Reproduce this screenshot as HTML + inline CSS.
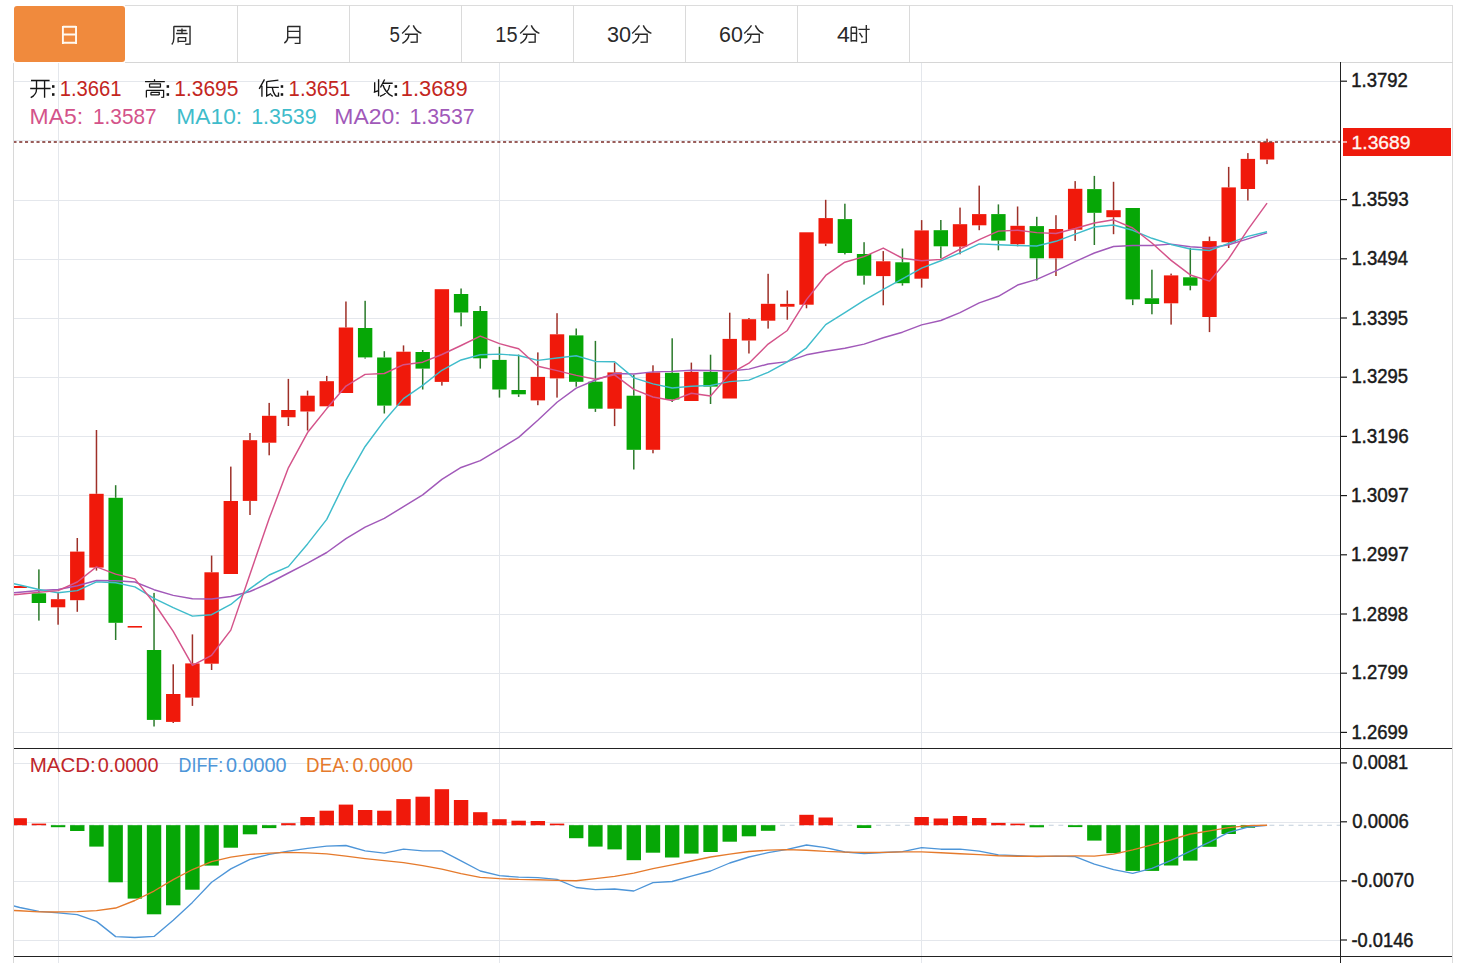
<!DOCTYPE html><html><head><meta charset="utf-8"><title>K</title><style>html,body{margin:0;padding:0;background:#fff;overflow:hidden}svg{display:block}</style></head><body>
<svg width="1463" height="963" viewBox="0 0 1463 963" font-family="Liberation Sans, sans-serif">
<rect width="1463" height="963" fill="#fff"/>
<g shape-rendering="crispEdges">
<line x1="125" y1="5.5" x2="1453" y2="5.5" stroke="#dcdcdc"/>
<line x1="13.5" y1="63" x2="13.5" y2="963" stroke="#d8d8d8"/>
<line x1="1452.5" y1="5" x2="1452.5" y2="963" stroke="#dcdcdc"/>
<line x1="125" y1="62.5" x2="1453" y2="62.5" stroke="#d6d6d6"/>
<line x1="237.5" y1="5" x2="237.5" y2="62" stroke="#dadada"/>
<line x1="349.5" y1="5" x2="349.5" y2="62" stroke="#dadada"/>
<line x1="461.5" y1="5" x2="461.5" y2="62" stroke="#dadada"/>
<line x1="573.5" y1="5" x2="573.5" y2="62" stroke="#dadada"/>
<line x1="685.5" y1="5" x2="685.5" y2="62" stroke="#dadada"/>
<line x1="797.5" y1="5" x2="797.5" y2="62" stroke="#dadada"/>
<line x1="909.5" y1="5" x2="909.5" y2="62" stroke="#dadada"/>
</g>
<rect x="14" y="6" width="111" height="56" rx="3" fill="#f08a3d"/>
<g shape-rendering="crispEdges" stroke="#e4e7ec" stroke-width="1">
<line x1="14" y1="81" x2="1340" y2="81"/>
<line x1="14" y1="140" x2="1340" y2="140"/>
<line x1="14" y1="200" x2="1340" y2="200"/>
<line x1="14" y1="259" x2="1340" y2="259"/>
<line x1="14" y1="318" x2="1340" y2="318"/>
<line x1="14" y1="377" x2="1340" y2="377"/>
<line x1="14" y1="436" x2="1340" y2="436"/>
<line x1="14" y1="495" x2="1340" y2="495"/>
<line x1="14" y1="555" x2="1340" y2="555"/>
<line x1="14" y1="614" x2="1340" y2="614"/>
<line x1="14" y1="673" x2="1340" y2="673"/>
<line x1="14" y1="732" x2="1340" y2="732"/>
<line x1="14" y1="763" x2="1340" y2="763"/>
<line x1="14" y1="822" x2="1340" y2="822"/>
<line x1="14" y1="881" x2="1340" y2="881"/>
<line x1="14" y1="940" x2="1340" y2="940"/>
<line x1="58.5" y1="63" x2="58.5" y2="963"/>
<line x1="499.5" y1="63" x2="499.5" y2="963"/>
<line x1="921.5" y1="63" x2="921.5" y2="963"/>
</g>
<defs><clipPath id="cm"><rect x="14" y="63" width="1326" height="685"/></clipPath><clipPath id="cd"><rect x="14" y="749" width="1326" height="207"/></clipPath></defs>
<g clip-path="url(#cm)">
<rect x="12.51" y="586" width="14.4" height="2" fill="#f0190b"/>
<rect x="38.15" y="569.4" width="1.5" height="23.9" fill="#2b7a2b"/>
<rect x="38.15" y="603" width="1.5" height="17.6" fill="#2b7a2b"/>
<rect x="31.7" y="593.3" width="14.4" height="9.7" fill="#06a706"/>
<rect x="57.34" y="592" width="1.5" height="7.2" fill="#9e3028"/>
<rect x="57.34" y="607.3" width="1.5" height="17.4" fill="#9e3028"/>
<rect x="50.89" y="599.2" width="14.4" height="8.1" fill="#f0190b"/>
<rect x="76.53" y="538" width="1.5" height="13.6" fill="#9e3028"/>
<rect x="76.53" y="600.2" width="1.5" height="11.6" fill="#9e3028"/>
<rect x="70.08" y="551.6" width="14.4" height="48.6" fill="#f0190b"/>
<rect x="95.72" y="430" width="1.5" height="63.8" fill="#9e3028"/>
<rect x="95.72" y="567.6" width="1.5" height="3" fill="#9e3028"/>
<rect x="89.27" y="493.8" width="14.4" height="73.8" fill="#f0190b"/>
<rect x="114.91" y="485.2" width="1.5" height="12.6" fill="#2b7a2b"/>
<rect x="114.91" y="622.8" width="1.5" height="17.2" fill="#2b7a2b"/>
<rect x="108.46" y="497.8" width="14.4" height="125" fill="#06a706"/>
<rect x="127.65" y="626" width="14.4" height="1.6" fill="#f0190b"/>
<rect x="153.29" y="592.9" width="1.5" height="57.1" fill="#2b7a2b"/>
<rect x="153.29" y="719.9" width="1.5" height="6.6" fill="#2b7a2b"/>
<rect x="146.84" y="650" width="14.4" height="69.9" fill="#06a706"/>
<rect x="172.48" y="664.3" width="1.5" height="29.7" fill="#9e3028"/>
<rect x="172.48" y="721.9" width="1.5" height="1.1" fill="#9e3028"/>
<rect x="166.03" y="694" width="14.4" height="27.9" fill="#f0190b"/>
<rect x="191.67" y="634.4" width="1.5" height="29" fill="#9e3028"/>
<rect x="191.67" y="697.6" width="1.5" height="8.3" fill="#9e3028"/>
<rect x="185.22" y="663.4" width="14.4" height="34.2" fill="#f0190b"/>
<rect x="210.86" y="555.6" width="1.5" height="16.7" fill="#9e3028"/>
<rect x="210.86" y="663.7" width="1.5" height="6.3" fill="#9e3028"/>
<rect x="204.41" y="572.3" width="14.4" height="91.4" fill="#f0190b"/>
<rect x="230.05" y="466.6" width="1.5" height="34.4" fill="#9e3028"/>
<rect x="223.6" y="501" width="14.4" height="73" fill="#f0190b"/>
<rect x="249.24" y="433" width="1.5" height="7.2" fill="#9e3028"/>
<rect x="249.24" y="500.9" width="1.5" height="14.1" fill="#9e3028"/>
<rect x="242.79" y="440.2" width="14.4" height="60.7" fill="#f0190b"/>
<rect x="268.43" y="402.9" width="1.5" height="12.9" fill="#9e3028"/>
<rect x="268.43" y="442.7" width="1.5" height="12.6" fill="#9e3028"/>
<rect x="261.98" y="415.8" width="14.4" height="26.9" fill="#f0190b"/>
<rect x="287.62" y="378.9" width="1.5" height="31.1" fill="#9e3028"/>
<rect x="287.62" y="417.3" width="1.5" height="8.7" fill="#9e3028"/>
<rect x="281.17" y="410" width="14.4" height="7.3" fill="#f0190b"/>
<rect x="306.81" y="390.6" width="1.5" height="5.1" fill="#9e3028"/>
<rect x="306.81" y="411.5" width="1.5" height="19" fill="#9e3028"/>
<rect x="300.36" y="395.7" width="14.4" height="15.8" fill="#f0190b"/>
<rect x="326" y="375.9" width="1.5" height="5.3" fill="#9e3028"/>
<rect x="319.55" y="381.2" width="14.4" height="25.1" fill="#f0190b"/>
<rect x="345.19" y="301.5" width="1.5" height="26" fill="#9e3028"/>
<rect x="338.74" y="327.5" width="14.4" height="65.5" fill="#f0190b"/>
<rect x="364.38" y="300.8" width="1.5" height="27.2" fill="#2b7a2b"/>
<rect x="364.38" y="357.4" width="1.5" height="1.2" fill="#2b7a2b"/>
<rect x="357.93" y="328" width="14.4" height="29.4" fill="#06a706"/>
<rect x="383.57" y="351.2" width="1.5" height="6.3" fill="#2b7a2b"/>
<rect x="383.57" y="405.6" width="1.5" height="7.9" fill="#2b7a2b"/>
<rect x="377.12" y="357.5" width="14.4" height="48.1" fill="#06a706"/>
<rect x="402.76" y="345.4" width="1.5" height="6.3" fill="#9e3028"/>
<rect x="396.31" y="351.7" width="14.4" height="54" fill="#f0190b"/>
<rect x="421.95" y="350" width="1.5" height="2" fill="#2b7a2b"/>
<rect x="421.95" y="368.6" width="1.5" height="20.9" fill="#2b7a2b"/>
<rect x="415.5" y="352" width="14.4" height="16.6" fill="#06a706"/>
<rect x="441.14" y="381.9" width="1.5" height="3.7" fill="#9e3028"/>
<rect x="434.69" y="289.2" width="14.4" height="92.7" fill="#f0190b"/>
<rect x="460.33" y="288.5" width="1.5" height="5.5" fill="#2b7a2b"/>
<rect x="460.33" y="312.5" width="1.5" height="13.8" fill="#2b7a2b"/>
<rect x="453.88" y="294" width="14.4" height="18.5" fill="#06a706"/>
<rect x="479.52" y="306" width="1.5" height="5" fill="#2b7a2b"/>
<rect x="479.52" y="358.3" width="1.5" height="10.3" fill="#2b7a2b"/>
<rect x="473.07" y="311" width="14.4" height="47.3" fill="#06a706"/>
<rect x="498.71" y="346.8" width="1.5" height="13.1" fill="#2b7a2b"/>
<rect x="498.71" y="389.5" width="1.5" height="8.1" fill="#2b7a2b"/>
<rect x="492.26" y="359.9" width="14.4" height="29.6" fill="#06a706"/>
<rect x="517.9" y="354.6" width="1.5" height="35.4" fill="#2b7a2b"/>
<rect x="517.9" y="394.3" width="1.5" height="2.6" fill="#2b7a2b"/>
<rect x="511.45" y="390" width="14.4" height="4.3" fill="#06a706"/>
<rect x="537.09" y="352.4" width="1.5" height="24.5" fill="#9e3028"/>
<rect x="537.09" y="400.4" width="1.5" height="4.8" fill="#9e3028"/>
<rect x="530.64" y="376.9" width="14.4" height="23.5" fill="#f0190b"/>
<rect x="556.28" y="313.2" width="1.5" height="21.1" fill="#9e3028"/>
<rect x="556.28" y="378.4" width="1.5" height="19.2" fill="#9e3028"/>
<rect x="549.83" y="334.3" width="14.4" height="44.1" fill="#f0190b"/>
<rect x="575.47" y="328.5" width="1.5" height="6.9" fill="#2b7a2b"/>
<rect x="575.47" y="381.8" width="1.5" height="4.9" fill="#2b7a2b"/>
<rect x="569.02" y="335.4" width="14.4" height="46.4" fill="#06a706"/>
<rect x="594.66" y="340.9" width="1.5" height="40.8" fill="#2b7a2b"/>
<rect x="594.66" y="408.7" width="1.5" height="3.2" fill="#2b7a2b"/>
<rect x="588.21" y="381.7" width="14.4" height="27" fill="#06a706"/>
<rect x="613.85" y="362.6" width="1.5" height="9.8" fill="#9e3028"/>
<rect x="613.85" y="408.7" width="1.5" height="17.4" fill="#9e3028"/>
<rect x="607.4" y="372.4" width="14.4" height="36.3" fill="#f0190b"/>
<rect x="633.04" y="374.8" width="1.5" height="20.9" fill="#2b7a2b"/>
<rect x="633.04" y="449.8" width="1.5" height="19.7" fill="#2b7a2b"/>
<rect x="626.59" y="395.7" width="14.4" height="54.1" fill="#06a706"/>
<rect x="652.23" y="365.3" width="1.5" height="7.1" fill="#9e3028"/>
<rect x="652.23" y="449.8" width="1.5" height="3.5" fill="#9e3028"/>
<rect x="645.78" y="372.4" width="14.4" height="77.4" fill="#f0190b"/>
<rect x="671.42" y="338.3" width="1.5" height="34.5" fill="#2b7a2b"/>
<rect x="671.42" y="399.5" width="1.5" height="2.5" fill="#2b7a2b"/>
<rect x="664.97" y="372.8" width="14.4" height="26.7" fill="#06a706"/>
<rect x="690.61" y="362.6" width="1.5" height="9.3" fill="#9e3028"/>
<rect x="684.16" y="371.9" width="14.4" height="29.1" fill="#f0190b"/>
<rect x="709.8" y="354.7" width="1.5" height="17.2" fill="#2b7a2b"/>
<rect x="709.8" y="386.6" width="1.5" height="17.4" fill="#2b7a2b"/>
<rect x="703.35" y="371.9" width="14.4" height="14.7" fill="#06a706"/>
<rect x="728.99" y="312.7" width="1.5" height="26.2" fill="#9e3028"/>
<rect x="722.54" y="338.9" width="14.4" height="59.6" fill="#f0190b"/>
<rect x="748.18" y="318" width="1.5" height="1.2" fill="#9e3028"/>
<rect x="748.18" y="340.5" width="1.5" height="13" fill="#9e3028"/>
<rect x="741.73" y="319.2" width="14.4" height="21.3" fill="#f0190b"/>
<rect x="767.37" y="273.8" width="1.5" height="30" fill="#9e3028"/>
<rect x="767.37" y="320.7" width="1.5" height="7.9" fill="#9e3028"/>
<rect x="760.92" y="303.8" width="14.4" height="16.9" fill="#f0190b"/>
<rect x="786.56" y="290.5" width="1.5" height="13.4" fill="#9e3028"/>
<rect x="786.56" y="306.7" width="1.5" height="13" fill="#9e3028"/>
<rect x="780.11" y="303.9" width="14.4" height="2.8" fill="#f0190b"/>
<rect x="805.75" y="304.7" width="1.5" height="3.6" fill="#9e3028"/>
<rect x="799.3" y="232.3" width="14.4" height="72.4" fill="#f0190b"/>
<rect x="824.94" y="199.8" width="1.5" height="18.3" fill="#9e3028"/>
<rect x="824.94" y="243.6" width="1.5" height="2.5" fill="#9e3028"/>
<rect x="818.49" y="218.1" width="14.4" height="25.5" fill="#f0190b"/>
<rect x="844.13" y="203.7" width="1.5" height="15.4" fill="#2b7a2b"/>
<rect x="844.13" y="253" width="1.5" height="1.4" fill="#2b7a2b"/>
<rect x="837.68" y="219.1" width="14.4" height="33.9" fill="#06a706"/>
<rect x="863.32" y="242.2" width="1.5" height="11.8" fill="#2b7a2b"/>
<rect x="863.32" y="275.7" width="1.5" height="8.9" fill="#2b7a2b"/>
<rect x="856.87" y="254" width="14.4" height="21.7" fill="#06a706"/>
<rect x="882.51" y="251.1" width="1.5" height="10.2" fill="#9e3028"/>
<rect x="882.51" y="276.1" width="1.5" height="29.2" fill="#9e3028"/>
<rect x="876.06" y="261.3" width="14.4" height="14.8" fill="#f0190b"/>
<rect x="901.7" y="248.5" width="1.5" height="13.8" fill="#2b7a2b"/>
<rect x="901.7" y="283.2" width="1.5" height="2.4" fill="#2b7a2b"/>
<rect x="895.25" y="262.3" width="14.4" height="20.9" fill="#06a706"/>
<rect x="920.89" y="220.1" width="1.5" height="10.3" fill="#9e3028"/>
<rect x="920.89" y="278.7" width="1.5" height="8.9" fill="#9e3028"/>
<rect x="914.44" y="230.4" width="14.4" height="48.3" fill="#f0190b"/>
<rect x="940.08" y="220" width="1.5" height="10.2" fill="#2b7a2b"/>
<rect x="940.08" y="246.3" width="1.5" height="12" fill="#2b7a2b"/>
<rect x="933.63" y="230.2" width="14.4" height="16.1" fill="#06a706"/>
<rect x="959.27" y="207.6" width="1.5" height="16.6" fill="#9e3028"/>
<rect x="959.27" y="246.6" width="1.5" height="7.7" fill="#9e3028"/>
<rect x="952.82" y="224.2" width="14.4" height="22.4" fill="#f0190b"/>
<rect x="978.46" y="185.6" width="1.5" height="28.5" fill="#9e3028"/>
<rect x="978.46" y="225.3" width="1.5" height="4.9" fill="#9e3028"/>
<rect x="972.01" y="214.1" width="14.4" height="11.2" fill="#f0190b"/>
<rect x="997.65" y="204.4" width="1.5" height="9.7" fill="#2b7a2b"/>
<rect x="997.65" y="240.6" width="1.5" height="9.7" fill="#2b7a2b"/>
<rect x="991.2" y="214.1" width="14.4" height="26.5" fill="#06a706"/>
<rect x="1016.84" y="206.5" width="1.5" height="19.3" fill="#9e3028"/>
<rect x="1016.84" y="244.2" width="1.5" height="2.1" fill="#9e3028"/>
<rect x="1010.39" y="225.8" width="14.4" height="18.4" fill="#f0190b"/>
<rect x="1036.03" y="216.8" width="1.5" height="9.3" fill="#2b7a2b"/>
<rect x="1036.03" y="258.3" width="1.5" height="22.2" fill="#2b7a2b"/>
<rect x="1029.58" y="226.1" width="14.4" height="32.2" fill="#06a706"/>
<rect x="1055.22" y="215.2" width="1.5" height="13.8" fill="#9e3028"/>
<rect x="1055.22" y="258.3" width="1.5" height="17.7" fill="#9e3028"/>
<rect x="1048.77" y="229" width="14.4" height="29.3" fill="#f0190b"/>
<rect x="1074.41" y="181.1" width="1.5" height="7.7" fill="#9e3028"/>
<rect x="1074.41" y="229.7" width="1.5" height="11.2" fill="#9e3028"/>
<rect x="1067.96" y="188.8" width="14.4" height="40.9" fill="#f0190b"/>
<rect x="1093.6" y="175.9" width="1.5" height="13.2" fill="#2b7a2b"/>
<rect x="1093.6" y="212.8" width="1.5" height="32.2" fill="#2b7a2b"/>
<rect x="1087.15" y="189.1" width="14.4" height="23.7" fill="#06a706"/>
<rect x="1112.79" y="181.8" width="1.5" height="28.4" fill="#9e3028"/>
<rect x="1112.79" y="217.2" width="1.5" height="17" fill="#9e3028"/>
<rect x="1106.34" y="210.2" width="14.4" height="7" fill="#f0190b"/>
<rect x="1131.98" y="299.4" width="1.5" height="5.7" fill="#2b7a2b"/>
<rect x="1125.53" y="208" width="14.4" height="91.4" fill="#06a706"/>
<rect x="1151.17" y="269.7" width="1.5" height="28.6" fill="#2b7a2b"/>
<rect x="1151.17" y="304" width="1.5" height="10.3" fill="#2b7a2b"/>
<rect x="1144.72" y="298.3" width="14.4" height="5.7" fill="#06a706"/>
<rect x="1170.36" y="273.6" width="1.5" height="1.8" fill="#9e3028"/>
<rect x="1170.36" y="303.3" width="1.5" height="21.3" fill="#9e3028"/>
<rect x="1163.91" y="275.4" width="14.4" height="27.9" fill="#f0190b"/>
<rect x="1189.55" y="248" width="1.5" height="29.3" fill="#2b7a2b"/>
<rect x="1189.55" y="285.7" width="1.5" height="4.6" fill="#2b7a2b"/>
<rect x="1183.1" y="277.3" width="14.4" height="8.4" fill="#06a706"/>
<rect x="1208.74" y="236.6" width="1.5" height="4.5" fill="#9e3028"/>
<rect x="1208.74" y="317" width="1.5" height="15.1" fill="#9e3028"/>
<rect x="1202.29" y="241.1" width="14.4" height="75.9" fill="#f0190b"/>
<rect x="1227.93" y="166.9" width="1.5" height="20.5" fill="#9e3028"/>
<rect x="1227.93" y="242.3" width="1.5" height="5.7" fill="#9e3028"/>
<rect x="1221.48" y="187.4" width="14.4" height="54.9" fill="#f0190b"/>
<rect x="1247.12" y="153.1" width="1.5" height="5.8" fill="#9e3028"/>
<rect x="1247.12" y="189" width="1.5" height="11.5" fill="#9e3028"/>
<rect x="1240.67" y="158.9" width="14.4" height="30.1" fill="#f0190b"/>
<rect x="1266.31" y="138.7" width="1.5" height="3.5" fill="#9e3028"/>
<rect x="1266.31" y="159.5" width="1.5" height="4.6" fill="#9e3028"/>
<rect x="1259.86" y="142.2" width="14.4" height="17.3" fill="#f0190b"/>
<polyline points="0.52,594 19.71,592.2 38.9,590.5 58.09,589.5 77.28,585.7 96.47,580.5 115.66,580.8 134.85,582 154.04,589.7 173.23,595.4 192.42,598.8 211.61,599 230.8,596.5 249.99,591.5 269.18,583 288.37,573 307.56,563.2 326.75,552.5 345.94,538.7 365.13,527.2 384.32,518.41 403.51,506.64 422.7,494.93 441.89,479.43 461.08,467.47 480.27,460.69 499.46,449.03 518.65,437.41 537.84,420.25 557.03,402.27 576.22,388.19 595.41,380.01 614.6,373.58 633.79,374.06 652.98,371.89 672.17,371.37 691.36,370.18 710.55,370.44 729.74,371.01 748.93,369.11 768.12,364.01 787.31,361.62 806.5,354.81 825.69,351.25 844.88,348.28 864.07,344.15 883.26,337.74 902.45,332.19 921.64,324.86 940.83,320.46 960.02,312.58 979.21,302.85 998.4,296.26 1017.59,285.06 1036.78,279.36 1055.97,270.83 1075.16,261.68 1094.35,252.98 1113.54,246.55 1132.73,245.56 1151.92,245.57 1171.11,244.14 1190.3,246.81 1209.49,247.97 1228.68,244.69 1247.87,238.84 1267.06,232.89" fill="none" stroke="#a159b9" stroke-width="1.45" stroke-linejoin="round"/>
<polyline points="0.52,581 19.71,585 38.9,589.5 58.09,592.8 77.28,590.6 96.47,581.9 115.66,582.7 134.85,586.9 154.04,598.4 173.23,607.7 192.42,616.15 211.61,614.68 230.8,604.48 249.99,588.58 269.18,575 288.37,566.62 307.56,543.91 326.75,519.35 345.94,480.11 365.13,446.45 384.32,420.67 403.51,398.61 422.7,385.37 441.89,370.27 461.08,359.94 480.27,354.77 499.46,354.15 518.65,355.46 537.84,360.4 557.03,358.09 576.22,355.71 595.41,361.41 614.6,361.79 633.79,377.85 652.98,383.84 672.17,387.96 691.36,386.2 710.55,385.43 729.74,381.63 748.93,380.12 768.12,372.32 787.31,361.84 806.5,347.83 825.69,324.66 844.88,312.72 864.07,300.34 883.26,289.28 902.45,278.94 921.64,268.09 940.83,260.8 960.02,252.84 979.21,243.86 998.4,244.69 1017.59,245.46 1036.78,245.99 1055.97,241.32 1075.16,234.07 1094.35,227.03 1113.54,225.01 1132.73,230.32 1151.92,238.3 1171.11,244.43 1190.3,248.94 1209.49,250.47 1228.68,243.38 1247.87,236.37 1267.06,231.71" fill="none" stroke="#3fbccb" stroke-width="1.45" stroke-linejoin="round"/>
<polyline points="0.52,596 19.71,594.3 38.9,592.3 58.09,590.6 77.28,582 96.47,566.92 115.66,574.08 134.85,578.84 154.04,602.98 173.23,631.46 192.42,665.38 211.61,655.28 230.8,630.12 249.99,574.18 269.18,518.54 288.37,467.86 307.56,432.54 326.75,408.58 345.94,386.04 365.13,374.36 384.32,373.48 403.51,364.68 422.7,362.16 441.89,354.5 461.08,345.52 480.27,336.06 499.46,343.62 518.65,348.76 537.84,366.3 557.03,370.66 576.22,375.36 595.41,379.2 614.6,374.82 633.79,389.4 652.98,397.02 672.17,400.56 691.36,393.2 710.55,396.04 729.74,373.86 748.93,363.22 768.12,344.08 787.31,330.48 806.5,299.62 825.69,275.46 844.88,262.22 864.07,256.6 883.26,248.08 902.45,258.26 921.64,260.72 940.83,259.38 960.02,249.08 979.21,239.64 998.4,231.12 1017.59,230.2 1036.78,232.6 1055.97,233.56 1075.16,228.5 1094.35,222.94 1113.54,219.82 1132.73,228.04 1151.92,243.04 1171.11,260.36 1190.3,274.94 1209.49,281.12 1228.68,258.72 1247.87,229.7 1267.06,203.06" fill="none" stroke="#d4538a" stroke-width="1.45" stroke-linejoin="round"/>
<line x1="14" y1="142" x2="1340" y2="142" stroke="#7a2a26" stroke-width="1.4" stroke-dasharray="3.1 2.66" stroke-dashoffset="-5.2"/>
</g>
<g clip-path="url(#cd)">
<line x1="14" y1="825.2" x2="1340" y2="825.2" stroke="#c2cfdc" stroke-width="1.1" stroke-dasharray="4.9 4.695" stroke-dashoffset="1.49"/>
<rect x="12.51" y="818.2" width="14.4" height="7" fill="#f0190b"/>
<rect x="31.7" y="823.6" width="14.4" height="1.6" fill="#f0190b"/>
<rect x="50.89" y="825.2" width="14.4" height="2" fill="#06a706"/>
<rect x="70.08" y="825.2" width="14.4" height="5.8" fill="#06a706"/>
<rect x="89.27" y="825.2" width="14.4" height="21.4" fill="#06a706"/>
<rect x="108.46" y="825.2" width="14.4" height="57.1" fill="#06a706"/>
<rect x="127.65" y="825.2" width="14.4" height="73.4" fill="#06a706"/>
<rect x="146.84" y="825.2" width="14.4" height="89.1" fill="#06a706"/>
<rect x="166.03" y="825.2" width="14.4" height="80.1" fill="#06a706"/>
<rect x="185.22" y="825.2" width="14.4" height="64.5" fill="#06a706"/>
<rect x="204.41" y="825.2" width="14.4" height="40.4" fill="#06a706"/>
<rect x="223.6" y="825.2" width="14.4" height="22.5" fill="#06a706"/>
<rect x="242.79" y="825.2" width="14.4" height="9.1" fill="#06a706"/>
<rect x="261.98" y="825.2" width="14.4" height="2.9" fill="#06a706"/>
<rect x="281.17" y="823.2" width="14.4" height="2" fill="#f0190b"/>
<rect x="300.36" y="817" width="14.4" height="8.2" fill="#f0190b"/>
<rect x="319.55" y="810.7" width="14.4" height="14.5" fill="#f0190b"/>
<rect x="338.74" y="804.6" width="14.4" height="20.6" fill="#f0190b"/>
<rect x="357.93" y="810" width="14.4" height="15.2" fill="#f0190b"/>
<rect x="377.12" y="810.7" width="14.4" height="14.5" fill="#f0190b"/>
<rect x="396.31" y="799.1" width="14.4" height="26.1" fill="#f0190b"/>
<rect x="415.5" y="796.7" width="14.4" height="28.5" fill="#f0190b"/>
<rect x="434.69" y="789.2" width="14.4" height="36" fill="#f0190b"/>
<rect x="453.88" y="800" width="14.4" height="25.2" fill="#f0190b"/>
<rect x="473.07" y="812.2" width="14.4" height="13" fill="#f0190b"/>
<rect x="492.26" y="819.2" width="14.4" height="6" fill="#f0190b"/>
<rect x="511.45" y="820.7" width="14.4" height="4.5" fill="#f0190b"/>
<rect x="530.64" y="821" width="14.4" height="4.2" fill="#f0190b"/>
<rect x="549.83" y="823.6" width="14.4" height="1.6" fill="#f0190b"/>
<rect x="569.02" y="825.2" width="14.4" height="13" fill="#06a706"/>
<rect x="588.21" y="825.2" width="14.4" height="21.4" fill="#06a706"/>
<rect x="607.4" y="825.2" width="14.4" height="24.2" fill="#06a706"/>
<rect x="626.59" y="825.2" width="14.4" height="35" fill="#06a706"/>
<rect x="645.78" y="825.2" width="14.4" height="27.5" fill="#06a706"/>
<rect x="664.97" y="825.2" width="14.4" height="32.3" fill="#06a706"/>
<rect x="684.16" y="825.2" width="14.4" height="28.4" fill="#06a706"/>
<rect x="703.35" y="825.2" width="14.4" height="26.8" fill="#06a706"/>
<rect x="722.54" y="825.2" width="14.4" height="16.5" fill="#06a706"/>
<rect x="741.73" y="825.2" width="14.4" height="11.1" fill="#06a706"/>
<rect x="760.92" y="825.2" width="14.4" height="5.6" fill="#06a706"/>
<rect x="799.3" y="814.8" width="14.4" height="10.4" fill="#f0190b"/>
<rect x="818.49" y="817.5" width="14.4" height="7.7" fill="#f0190b"/>
<rect x="856.87" y="825.2" width="14.4" height="2.8" fill="#06a706"/>
<rect x="914.44" y="817" width="14.4" height="8.2" fill="#f0190b"/>
<rect x="933.63" y="818.5" width="14.4" height="6.7" fill="#f0190b"/>
<rect x="952.82" y="816" width="14.4" height="9.2" fill="#f0190b"/>
<rect x="972.01" y="818" width="14.4" height="7.2" fill="#f0190b"/>
<rect x="991.2" y="822.9" width="14.4" height="2.3" fill="#f0190b"/>
<rect x="1010.39" y="823.6" width="14.4" height="1.6" fill="#f0190b"/>
<rect x="1029.58" y="825.2" width="14.4" height="2.1" fill="#06a706"/>
<rect x="1067.96" y="825.2" width="14.4" height="1.9" fill="#06a706"/>
<rect x="1087.15" y="825.2" width="14.4" height="15.4" fill="#06a706"/>
<rect x="1106.34" y="825.2" width="14.4" height="28" fill="#06a706"/>
<rect x="1125.53" y="825.2" width="14.4" height="45.7" fill="#06a706"/>
<rect x="1144.72" y="825.2" width="14.4" height="45.7" fill="#06a706"/>
<rect x="1163.91" y="825.2" width="14.4" height="40.3" fill="#06a706"/>
<rect x="1183.1" y="825.2" width="14.4" height="35.4" fill="#06a706"/>
<rect x="1202.29" y="825.2" width="14.4" height="21.6" fill="#06a706"/>
<rect x="1221.48" y="825.2" width="14.4" height="8.8" fill="#06a706"/>
<rect x="1240.67" y="825.2" width="14.4" height="2.6" fill="#06a706"/>
<polyline points="0.52,902.5 19.71,907.5 38.9,911.4 58.09,912.9 77.28,914.7 96.47,921.4 115.66,936.6 134.85,937.5 154.04,936.4 173.23,920.3 192.42,902.4 211.61,882.3 230.8,868.9 249.99,859.3 269.18,854.4 288.37,851.1 307.56,848.4 326.75,846.2 345.94,845.5 365.13,850.9 384.32,853.1 403.51,849.2 422.7,850.9 441.89,850.9 461.08,860.8 480.27,871 499.46,875.6 518.65,877.2 537.84,877.6 557.03,879.4 576.22,887.5 595.41,889.6 614.6,889 633.79,891 652.98,882.6 672.17,881.5 691.36,876.1 710.55,871 729.74,863 748.93,857 768.12,852.7 787.31,849.4 806.5,845 825.69,847.6 844.88,852 864.07,853.6 883.26,852.5 902.45,851.6 921.64,847.6 940.83,849.2 960.02,849.2 979.21,851.2 998.4,854.9 1017.59,855.6 1036.78,856.6 1055.97,856.1 1075.16,856.6 1094.35,864.2 1113.54,869.7 1132.73,873.3 1151.92,868.4 1171.11,860.3 1190.3,851.2 1209.49,842.1 1228.68,832.3 1247.87,827.1 1267.06,825.4" fill="none" stroke="#4d95d8" stroke-width="1.35" stroke-linejoin="round"/>
<polyline points="0.52,910 19.71,910.75 38.9,911.8 58.09,911.95 77.28,911.6 96.47,910.7 115.66,908.02 134.85,900.5 154.04,891.02 173.23,879.62 192.42,869.52 211.61,861.6 230.8,857.17 249.99,854.38 269.18,853.12 288.37,852.35 307.56,852.9 326.75,853.88 345.94,856.1 365.13,858.55 384.32,860.58 403.51,862.62 422.7,865.67 441.89,869.2 461.08,873.65 480.27,877.35 499.46,878.65 518.65,879.42 537.84,879.75 557.03,880.35 576.22,880.75 595.41,878.6 614.6,876.45 633.79,873.15 652.98,868.62 672.17,864.92 691.36,861 710.55,857 729.74,854.17 748.93,851.52 768.12,850.2 787.31,849.6 806.5,850.25 825.69,851.42 844.88,852.1 864.07,852.45 883.26,852.35 902.45,851.8 921.64,851.85 940.83,852.78 960.02,853.75 979.21,854.6 998.4,855.73 1017.59,856.25 1036.78,856.23 1055.97,856.1 1075.16,855.88 1094.35,856.05 1113.54,854.05 1132.73,849.83 1151.92,844.92 1171.11,839.77 1190.3,834 1209.49,830.8 1228.68,827.6 1247.87,825.7 1267.06,825.25" fill="none" stroke="#e57a2c" stroke-width="1.35" stroke-linejoin="round"/>
</g>
<g shape-rendering="crispEdges">
<line x1="1340.5" y1="62" x2="1340.5" y2="963" stroke="#222"/>
<line x1="14" y1="748.5" x2="1452" y2="748.5" stroke="#222"/>
<line x1="14" y1="956.5" x2="1452" y2="956.5" stroke="#222"/>
</g>
<line x1="1341" y1="81.2" x2="1347" y2="81.2" stroke="#1a1a1a" stroke-width="1.2"/>
<line x1="1341" y1="199.6" x2="1347" y2="199.6" stroke="#1a1a1a" stroke-width="1.2"/>
<line x1="1341" y1="258.8" x2="1347" y2="258.8" stroke="#1a1a1a" stroke-width="1.2"/>
<line x1="1341" y1="318" x2="1347" y2="318" stroke="#1a1a1a" stroke-width="1.2"/>
<line x1="1341" y1="377.2" x2="1347" y2="377.2" stroke="#1a1a1a" stroke-width="1.2"/>
<line x1="1341" y1="436.4" x2="1347" y2="436.4" stroke="#1a1a1a" stroke-width="1.2"/>
<line x1="1341" y1="495.6" x2="1347" y2="495.6" stroke="#1a1a1a" stroke-width="1.2"/>
<line x1="1341" y1="554.8" x2="1347" y2="554.8" stroke="#1a1a1a" stroke-width="1.2"/>
<line x1="1341" y1="614" x2="1347" y2="614" stroke="#1a1a1a" stroke-width="1.2"/>
<line x1="1341" y1="673.2" x2="1347" y2="673.2" stroke="#1a1a1a" stroke-width="1.2"/>
<line x1="1341" y1="732.4" x2="1347" y2="732.4" stroke="#1a1a1a" stroke-width="1.2"/>
<line x1="1341" y1="762.9" x2="1347" y2="762.9" stroke="#1a1a1a" stroke-width="1.2"/>
<line x1="1341" y1="821.8" x2="1347" y2="821.8" stroke="#1a1a1a" stroke-width="1.2"/>
<line x1="1341" y1="880.8" x2="1347" y2="880.8" stroke="#1a1a1a" stroke-width="1.2"/>
<line x1="1341" y1="940" x2="1347" y2="940" stroke="#1a1a1a" stroke-width="1.2"/>
<text x="1351.35" y="87.32" font-size="19.77" fill="#1a1a1a" textLength="56.48" lengthAdjust="spacingAndGlyphs" stroke="#1a1a1a" stroke-width="0.45">1.3792</text>
<text x="1351.07" y="205.96" font-size="19.77" fill="#1a1a1a" textLength="57.69" lengthAdjust="spacingAndGlyphs" stroke="#1a1a1a" stroke-width="0.45">1.3593</text>
<text x="1351.43" y="265.28" font-size="19.77" fill="#1a1a1a" textLength="56.76" lengthAdjust="spacingAndGlyphs" stroke="#1a1a1a" stroke-width="0.45">1.3494</text>
<text x="1351.52" y="324.6" font-size="19.77" fill="#1a1a1a" textLength="56.59" lengthAdjust="spacingAndGlyphs" stroke="#1a1a1a" stroke-width="0.45">1.3395</text>
<text x="1351.52" y="383.32" font-size="19.77" fill="#1a1a1a" textLength="56.59" lengthAdjust="spacingAndGlyphs" stroke="#1a1a1a" stroke-width="0.45">1.3295</text>
<text x="1351.07" y="442.64" font-size="19.77" fill="#1a1a1a" textLength="57.69" lengthAdjust="spacingAndGlyphs" stroke="#1a1a1a" stroke-width="0.45">1.3196</text>
<text x="1351" y="501.96" font-size="19.77" fill="#1a1a1a" textLength="57.69" lengthAdjust="spacingAndGlyphs" stroke="#1a1a1a" stroke-width="0.45">1.3097</text>
<text x="1351" y="561.28" font-size="19.77" fill="#1a1a1a" textLength="57.69" lengthAdjust="spacingAndGlyphs" stroke="#1a1a1a" stroke-width="0.45">1.2997</text>
<text x="1351.46" y="620.6" font-size="19.77" fill="#1a1a1a" textLength="56.57" lengthAdjust="spacingAndGlyphs" stroke="#1a1a1a" stroke-width="0.45">1.2898</text>
<text x="1351.51" y="679.32" font-size="19.77" fill="#1a1a1a" textLength="56.52" lengthAdjust="spacingAndGlyphs" stroke="#1a1a1a" stroke-width="0.45">1.2799</text>
<text x="1351.51" y="738.64" font-size="19.77" fill="#1a1a1a" textLength="56.52" lengthAdjust="spacingAndGlyphs" stroke="#1a1a1a" stroke-width="0.45">1.2699</text>
<text x="1352.59" y="769.44" font-size="19.77" fill="#1a1a1a" textLength="55.62" lengthAdjust="spacingAndGlyphs" stroke="#1a1a1a" stroke-width="0.45">0.0081</text>
<text x="1352.28" y="828.28" font-size="19.77" fill="#1a1a1a" textLength="56.6" lengthAdjust="spacingAndGlyphs" stroke="#1a1a1a" stroke-width="0.45">0.0006</text>
<text x="1351.22" y="887.28" font-size="19.77" fill="#1a1a1a" textLength="62.84" lengthAdjust="spacingAndGlyphs" stroke="#1a1a1a" stroke-width="0.45">-0.0070</text>
<text x="1351.52" y="946.6" font-size="19.77" fill="#1a1a1a" textLength="61.99" lengthAdjust="spacingAndGlyphs" stroke="#1a1a1a" stroke-width="0.45">-0.0146</text>
<rect x="1343" y="128" width="108" height="28" fill="#ee1a0c"/>
<line x1="1341" y1="142" x2="1347" y2="142" stroke="#fff" stroke-width="1.2"/>
<text x="1351.58" y="148.95" font-size="19.21" fill="#fff6f2" textLength="58.91" lengthAdjust="spacingAndGlyphs" stroke="#fff6f2" stroke-width="0.35">1.3689</text>
<path d="M1.2,0 V20 M18.7,0 V20 M1.2,0.9 H18.7 M1.2,9.5 H18.7 M1.2,18.5 H18.7" transform="translate(62 25.9) scale(0.75 0.91)" fill="none" stroke="#fffaf2" stroke-width="1.9" vector-effect="non-scaling-stroke" stroke-linecap="butt" stroke-linejoin="miter"/>
<path d="M2.4,0.5 V12.9 Q2.4,17 0.3,19.4 M2.4,0.7 H19.1 V19 L14.2,19.2 M5.6,4.9 H15.5 M10.8,2.8 V7.8 M4.7,8 H16.6 M6.8,12.2 V17.4 M6.8,12.3 H14.6 V16.25 M6.8,16.25 H14.6" transform="translate(171.5 25.8) scale(0.97 0.96)" fill="none" stroke="#2a2a2a" stroke-width="1.4" vector-effect="non-scaling-stroke" stroke-linecap="butt" stroke-linejoin="miter"/>
<path d="M4.6,0.45 V13.3 Q4.6,17 0.5,19.4 M4.6,0.7 H19.2 V19.6 L12.9,19.6 M4.6,6.2 H19.2 M4.6,13 H19.2" transform="translate(283.9 25.9) scale(0.83 0.89)" fill="none" stroke="#2a2a2a" stroke-width="1.4" vector-effect="non-scaling-stroke" stroke-linecap="butt" stroke-linejoin="miter"/>
<text x="389.6" y="41.72" font-size="22.35" fill="#2a2a2a" textLength="10.44" lengthAdjust="spacingAndGlyphs">5</text>
<path d="M7.6,0.4 Q4.1,5.9 0.2,9.1 M11.5,0.4 Q13.7,6.4 19.7,9.1 M3,10 H15.4 V18.4 L8.7,18.6 M7.1,10.6 Q6.6,16 0.5,19.8" transform="translate(401.9 25) scale(0.99 0.93)" fill="none" stroke="#2a2a2a" stroke-width="1.4" vector-effect="non-scaling-stroke" stroke-linecap="butt" stroke-linejoin="miter"/>
<text x="495.37" y="41.72" font-size="22.35" fill="#2a2a2a" textLength="22.2" lengthAdjust="spacingAndGlyphs">15</text>
<path d="M7.6,0.4 Q4.1,5.9 0.2,9.1 M11.5,0.4 Q13.7,6.4 19.7,9.1 M3,10 H15.4 V18.4 L8.7,18.6 M7.1,10.6 Q6.6,16 0.5,19.8" transform="translate(519.9 25) scale(0.99 0.93)" fill="none" stroke="#2a2a2a" stroke-width="1.4" vector-effect="non-scaling-stroke" stroke-linecap="butt" stroke-linejoin="miter"/>
<text x="607.04" y="41.72" font-size="22.03" fill="#2a2a2a" textLength="24.07" lengthAdjust="spacingAndGlyphs">30</text>
<path d="M7.6,0.4 Q4.1,5.9 0.2,9.1 M11.5,0.4 Q13.7,6.4 19.7,9.1 M3,10 H15.4 V18.4 L8.7,18.6 M7.1,10.6 Q6.6,16 0.5,19.8" transform="translate(631.9 25) scale(0.99 0.93)" fill="none" stroke="#2a2a2a" stroke-width="1.4" vector-effect="non-scaling-stroke" stroke-linecap="butt" stroke-linejoin="miter"/>
<text x="719.12" y="41.72" font-size="22.03" fill="#2a2a2a" textLength="23.76" lengthAdjust="spacingAndGlyphs">60</text>
<path d="M7.6,0.4 Q4.1,5.9 0.2,9.1 M11.5,0.4 Q13.7,6.4 19.7,9.1 M3,10 H15.4 V18.4 L8.7,18.6 M7.1,10.6 Q6.6,16 0.5,19.8" transform="translate(744 25) scale(0.99 0.93)" fill="none" stroke="#2a2a2a" stroke-width="1.4" vector-effect="non-scaling-stroke" stroke-linecap="butt" stroke-linejoin="miter"/>
<text x="836.95" y="41.64" font-size="22.67" fill="#2a2a2a" textLength="12.8" lengthAdjust="spacingAndGlyphs">4</text>
<path d="M0.7,2.5 V18.9 M6.2,2.5 V18.9 M0.7,2.5 H6.2 M0.7,9.3 H6.2 M0.7,17.8 H6.2 M8.1,4.9 H19.8 M16.3,0 V19.4 L10.9,19.7 M9.3,8.75 L12.3,14" transform="translate(850.5 25.1) scale(0.97 0.88)" fill="none" stroke="#2a2a2a" stroke-width="1.4" vector-effect="non-scaling-stroke" stroke-linecap="butt" stroke-linejoin="miter"/>
<path d="M0.8,0.8 H19 M0,9.6 H20 M6.2,0.8 V10.5 Q6.2,16.5 0.5,19.7 M14.1,0.8 V19.7" transform="translate(30.2 79.8) scale(1.02 0.91)" fill="none" stroke="#151515" stroke-width="1.35" vector-effect="non-scaling-stroke" stroke-linecap="butt" stroke-linejoin="miter"/>
<path d="M9.6,0 V2.4 M0,2.6 H20 M4.6,4.9 V8.9 M4.6,5.1 H15.6 V8.9 M4.6,8.5 H15.6 M1.4,11.9 V19.8 M1.4,12.1 H18.8 V19.3 L16.4,19.5 M6,14.1 V17.3 M6,14.3 H14.4 V17.1 M6,16.9 H14.4" transform="translate(145 79.2) scale(0.99 0.93)" fill="none" stroke="#151515" stroke-width="1.25" vector-effect="non-scaling-stroke" stroke-linecap="butt" stroke-linejoin="miter"/>
<path d="M5.6,0.3 L0.4,11 M3.1,7.6 V19.8 M19.4,1.1 Q13,2.2 7.8,2.8 M7.8,2.6 V18.8 L12.2,16.4 M7.8,9.3 H19.8 M13.4,9.6 Q14.4,16.5 17.2,19.2 L19.5,19.2 V15 M12.2,17.4 L13.8,19.4" transform="translate(258.8 79.1) scale(1.01 0.89)" fill="none" stroke="#151515" stroke-width="1.35" vector-effect="non-scaling-stroke" stroke-linecap="butt" stroke-linejoin="miter"/>
<path d="M1.5,3.5 V14.7 M0.5,15.2 L5.4,13 M5.5,0.1 V19.6 M11.7,0.5 L7.4,9.5 M9.5,4.7 H19.9 M16.8,6.7 Q16,16 6.9,19.7 M10,6.7 Q12.5,16 19.9,19.7" transform="translate(373.2 79.1) scale(0.98 0.88)" fill="none" stroke="#151515" stroke-width="1.35" vector-effect="non-scaling-stroke" stroke-linecap="butt" stroke-linejoin="miter"/>
<rect x="52" y="85.2" width="2.5" height="2.6" fill="#151515"/><rect x="52" y="93.2" width="2.5" height="2.6" fill="#151515"/>
<rect x="166.6" y="85.2" width="2.5" height="2.6" fill="#151515"/><rect x="166.6" y="93.2" width="2.5" height="2.6" fill="#151515"/>
<rect x="280.7" y="85.2" width="2.5" height="2.6" fill="#151515"/><rect x="280.7" y="93.2" width="2.5" height="2.6" fill="#151515"/>
<rect x="394.6" y="85.2" width="2.5" height="2.6" fill="#151515"/><rect x="394.6" y="93.2" width="2.5" height="2.6" fill="#151515"/>
<text x="59.73" y="95.56" font-size="21.87" fill="#c3261e" textLength="61.79" lengthAdjust="spacingAndGlyphs">1.3661</text>
<text x="174.3" y="95.56" font-size="21.87" fill="#c3261e" textLength="64.1" lengthAdjust="spacingAndGlyphs">1.3695</text>
<text x="288.62" y="95.56" font-size="21.87" fill="#c3261e" textLength="61.97" lengthAdjust="spacingAndGlyphs">1.3651</text>
<text x="400.76" y="95.56" font-size="21.87" fill="#c3261e" textLength="66.98" lengthAdjust="spacingAndGlyphs">1.3689</text>
<text x="29.63" y="124.28" font-size="22.35" fill="#d4538a" textLength="53.46" lengthAdjust="spacingAndGlyphs">MA5:</text>
<text x="92.98" y="124.28" font-size="22.03" fill="#d4538a" textLength="63.61" lengthAdjust="spacingAndGlyphs">1.3587</text>
<text x="176.39" y="124.28" font-size="22.03" fill="#3fbccb" textLength="65.74" lengthAdjust="spacingAndGlyphs">MA10:</text>
<text x="251.2" y="124.28" font-size="22.03" fill="#3fbccb" textLength="65.41" lengthAdjust="spacingAndGlyphs">1.3539</text>
<text x="334.28" y="124.28" font-size="22.03" fill="#a159b9" textLength="66.34" lengthAdjust="spacingAndGlyphs">MA20:</text>
<text x="409.43" y="124.28" font-size="22.03" fill="#a159b9" textLength="65.2" lengthAdjust="spacingAndGlyphs">1.3537</text>
<text x="29.67" y="771.9" font-size="20.06" fill="#c0272b" textLength="66.09" lengthAdjust="spacingAndGlyphs">MACD:</text>
<text x="97.69" y="771.9" font-size="20.06" fill="#c0272b" textLength="60.77" lengthAdjust="spacingAndGlyphs">0.0000</text>
<text x="178.53" y="772.1" font-size="20.64" fill="#4d95d8" textLength="44.73" lengthAdjust="spacingAndGlyphs">DIFF:</text>
<text x="226.04" y="771.9" font-size="20.06" fill="#4d95d8" textLength="60.58" lengthAdjust="spacingAndGlyphs">0.0000</text>
<text x="306.11" y="772.1" font-size="20.64" fill="#e57a2c" textLength="43.72" lengthAdjust="spacingAndGlyphs">DEA:</text>
<text x="352.53" y="771.9" font-size="20.06" fill="#e57a2c" textLength="60.56" lengthAdjust="spacingAndGlyphs">0.0000</text>
</svg></body></html>
